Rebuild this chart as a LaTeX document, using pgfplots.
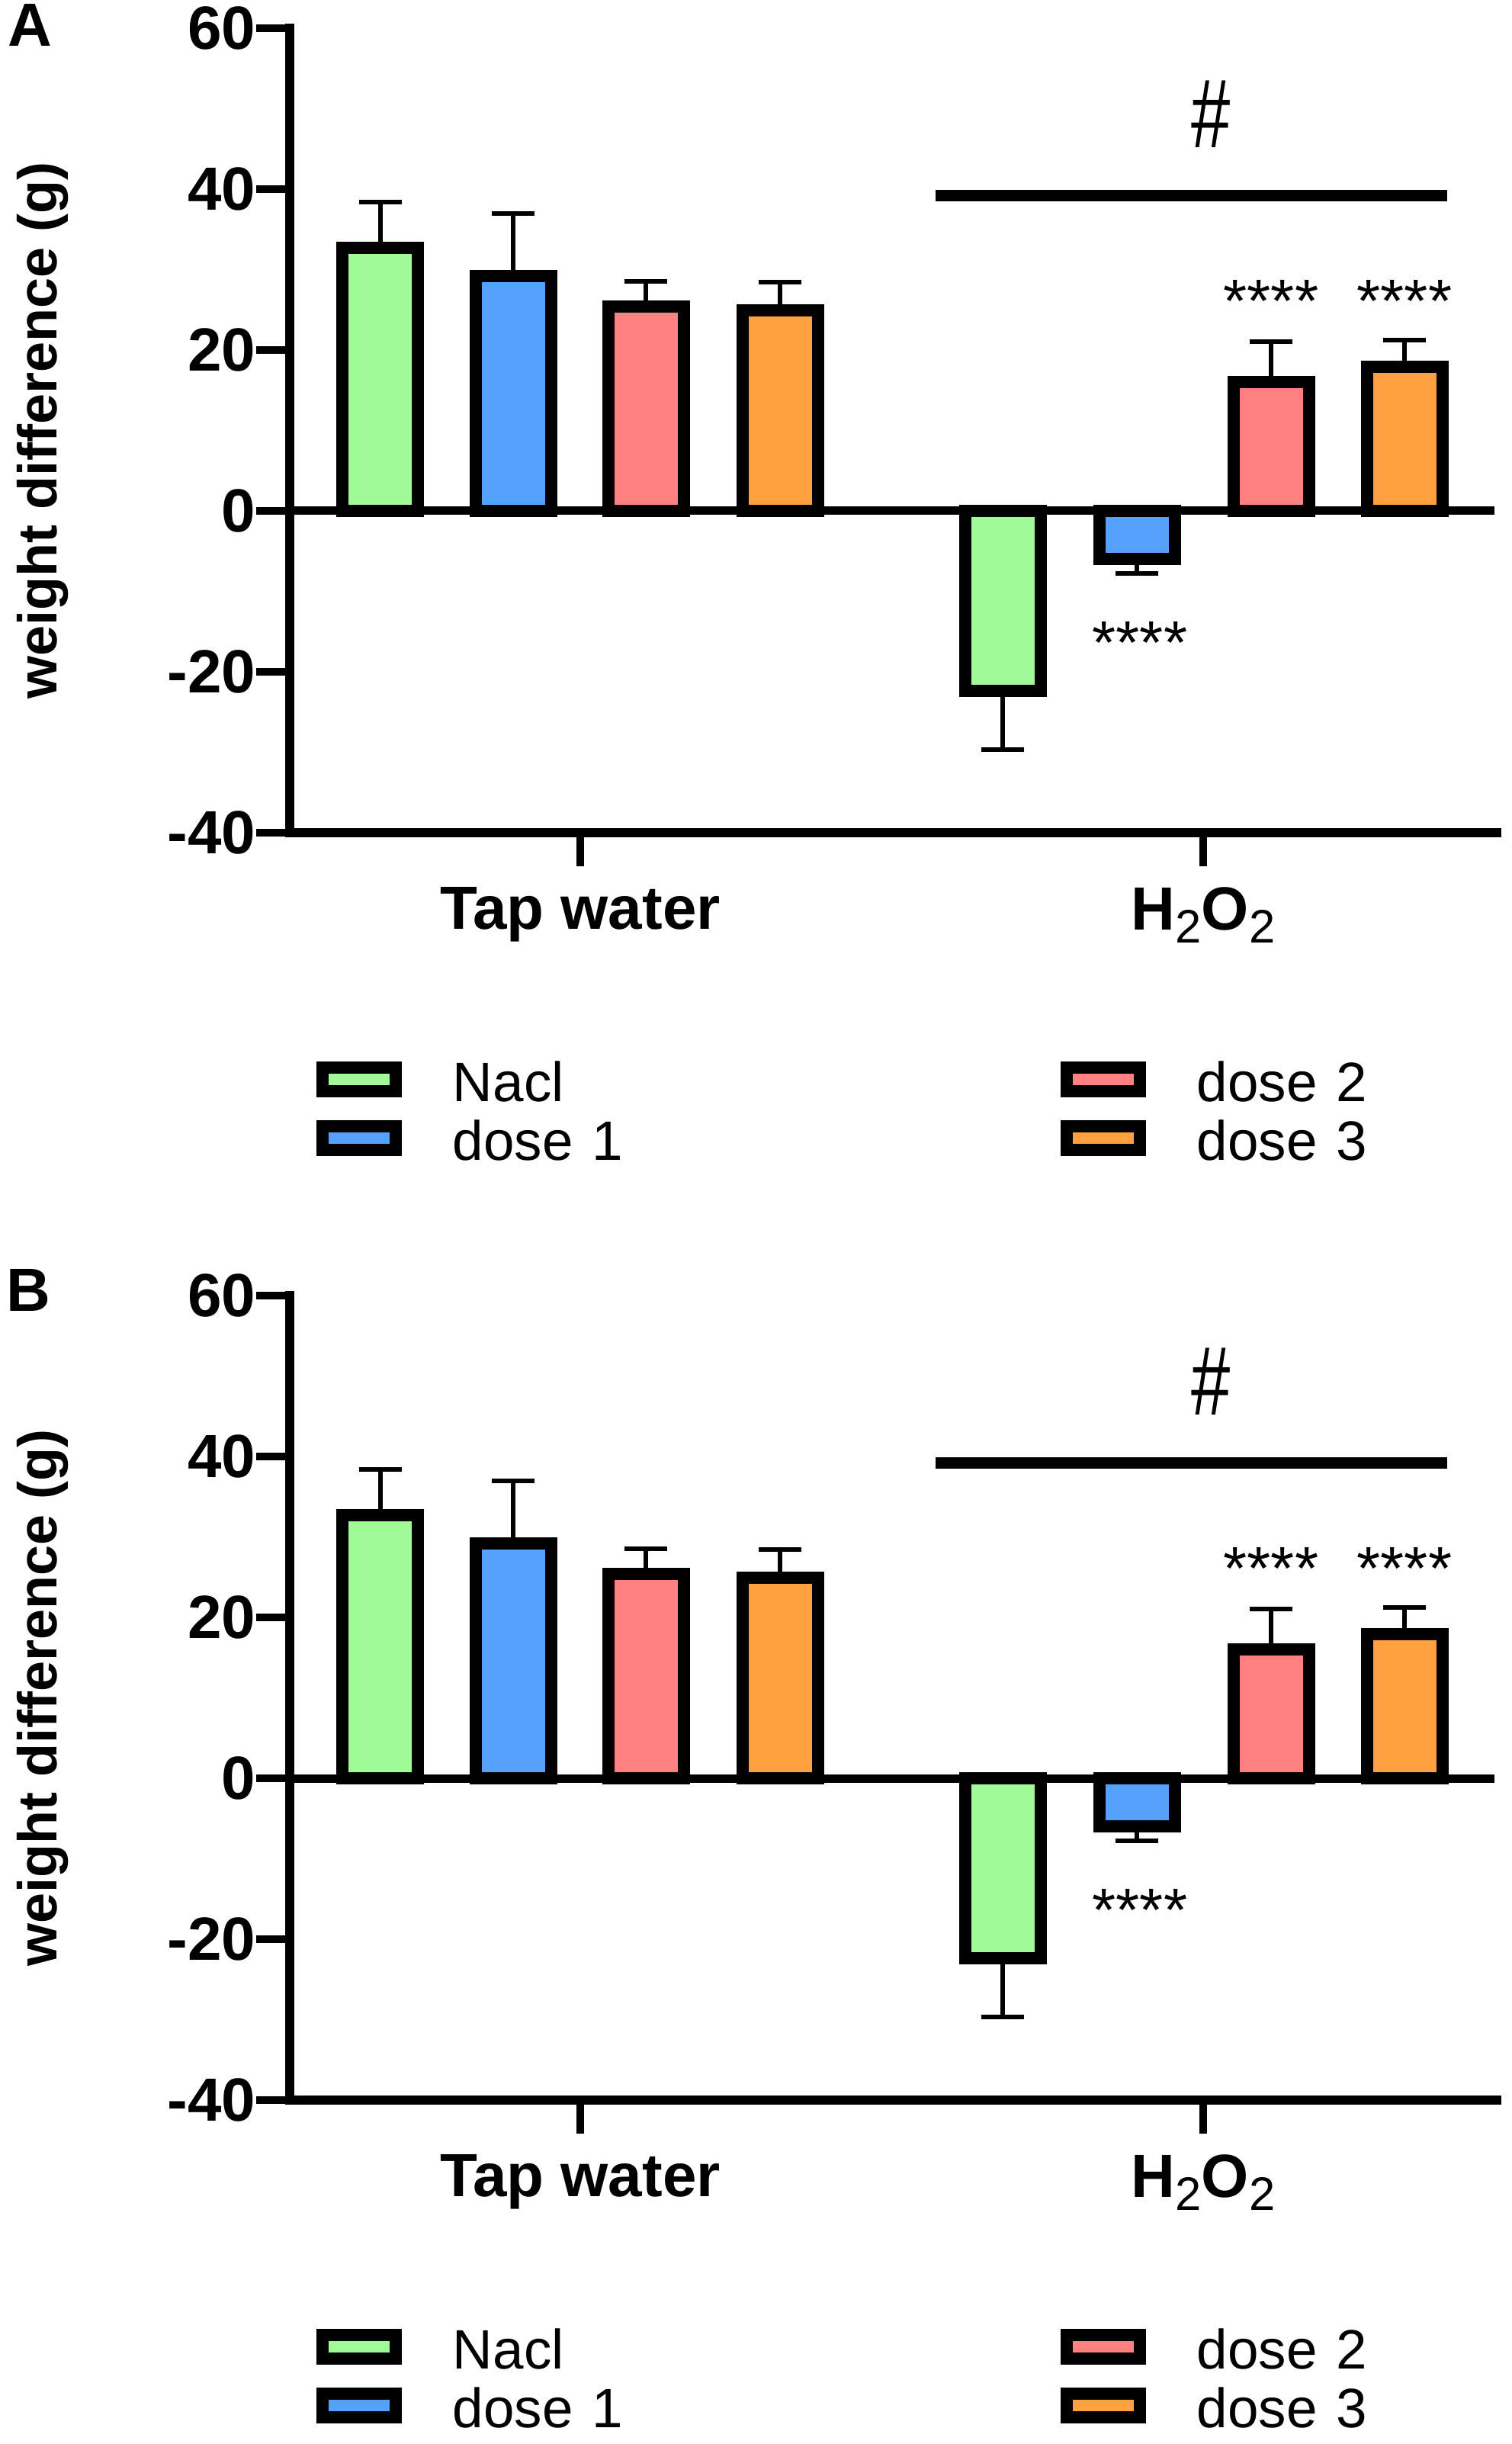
\documentclass[border=0pt]{standalone}
\usepackage{pgfplots}
\pgfplotsset{compat=1.18}
\usepackage{pgfplotstable}
\usepackage{fontspec}
\setmainfont{Liberation Sans}
\newcommand\tickfnt{\bfseries\fontsize{20pt}{20pt}\selectfont}
\newcommand\labfnt{\bfseries\fontsize{18pt}{18pt}\selectfont}
\newcommand\legfnt{\fontsize{18.2pt}{18.2pt}\selectfont}
\newcommand\starfnt{\fontsize{20pt}{20pt}\selectfont}
\newcommand\sub[1]{\raisebox{-4.25pt}{\mdseries\fontsize{15.4pt}{15.4pt}\selectfont #1}}
\definecolor{cgreen}{RGB}{160,250,150}
\definecolor{cblue}{RGB}{85,160,250}
\definecolor{cred}{RGB}{255,128,128}
\definecolor{corange}{RGB}{255,160,64}

\pgfplotstableread{
x y ep em
499 32.7 5.7 0
1315 -22.35 0 7.3
}\tnacl
\pgfplotstableread{
x y ep em
673 29.2 7.8 0
1491 -5.95 0 1.85
}\tdoseone
\pgfplotstableread{
x y ep em
847 25.4 3.1 0
1667 16.0 5.0 0
}\tdosetwo
\pgfplotstableread{
x y ep em
1023 24.9 3.5 0
1842 17.9 3.3 0
}\tdosethree

\pgfplotsset{
 panel/.style={
  scale only axis, width=395.75pt, height=263.75pt,
  xmin=380, xmax=1963, ymin=-40, ymax=60,
  axis x line=bottom, axis y line=left,
  axis line style={-, line width=3pt, line cap=rect},
  tick align=outside, major tick length=11pt,
  tick style={line width=2.6pt, black},
  xtick={761,1578}, xticklabels={Tap water, H\sub{2}O\sub{2}},
  ytick={-40,-20,0,20,40,60}, yticklabels={-40,-20,0,20,40,60},
  tick label style={font=\tickfnt, inner sep=0pt},
  xticklabel style={yshift=-6.75pt},
  ylabel={weight difference (g)},
  ylabel style={font=\labfnt, at={(axis description cs:-0.1933,0.5)}, anchor=base, inner sep=0pt},
  clip=false,
  legend columns=2, legend cell align=left,
  legend style={draw=none, fill=none, inner sep=0pt, outer sep=0pt,
    at={(axis cs:415,-67.39)}, anchor=north west, row sep=1.75pt,
    nodes={inner sep=0pt, outer sep=0pt, text width=199.25pt, text height=16pt, text depth=1.5pt, align=left, font=\legfnt},
    /tikz/every odd column/.append style={column sep=16.75pt}},
 },
 mybar/.style={ybar, bar width=24.75pt, bar shift=0pt, draw=black, line width=4pt, fill=#1,
   error bars/y dir=both, error bars/y explicit,
   error bars/error bar style={line width=1.5pt, black},
   error bars/error mark options={rotate=90, mark size=7.1pt, line width=1.5pt, black}},
 patchleg/.style={legend image code/.code={\draw[##1, line width=4pt, draw=black] (0pt,-3.875pt) rectangle (24pt,3.875pt);}},
}

\newcommand\panelbody{%
  \addplot[mybar=cgreen, forget plot] table[x=x, y=y, y error plus=ep, y error minus=em] {\tnacl};
  \addplot[mybar=cblue, forget plot] table[x=x, y=y, y error plus=ep, y error minus=em] {\tdoseone};
  \addplot[mybar=cred, forget plot] table[x=x, y=y, y error plus=ep, y error minus=em] {\tdosetwo};
  \addplot[mybar=corange, forget plot] table[x=x, y=y, y error plus=ep, y error minus=em] {\tdosethree};
  \addplot[black, line width=2.75pt, forget plot] coordinates {(380,0) (1960,0)};
  \addplot[black, line width=3.75pt, forget plot] coordinates {(1227,39.15) (1898,39.15)};
  \node[anchor=base, inner sep=0pt] at (axis cs:1588,45.2) {\scalebox{0.72}[1]{\fontsize{32pt}{32pt}\selectfont\#}};
  \node[font=\starfnt, anchor=base, inner sep=0pt] at (axis cs:1667,23.5) {****};
  \node[font=\starfnt, anchor=base, inner sep=0pt] at (axis cs:1842,23.5) {****};
  \node[font=\starfnt, anchor=base, inner sep=0pt] at (axis cs:1495,-19.0) {****};
  \addlegendimage{fill=cgreen, patchleg}
  \addlegendentry{Nacl}
  \addlegendimage{fill=cred, patchleg}
  \addlegendentry{dose 2}
  \addlegendimage{fill=cblue, patchleg}
  \addlegendentry{dose 1}
  \addlegendimage{fill=corange, patchleg}
  \addlegendentry{dose 3}
}

\begin{document}
\begin{tikzpicture}
\useasboundingbox (0,0) rectangle (495.75pt,801.25pt);
\begin{axis}[panel, at={(95pt,528.25pt)}, anchor=south west]
\panelbody
\end{axis}
\begin{axis}[panel, at={(95pt,112.75pt)}, anchor=south west]
\panelbody
\end{axis}
\node[font=\bfseries\fontsize{20pt}{20pt}\selectfont, anchor=base west, inner sep=0pt] at (2.5pt,786pt) {A};
\node[font=\bfseries\fontsize{20pt}{20pt}\selectfont, anchor=base west, inner sep=0pt] at (2pt,371.25pt) {B};
\end{tikzpicture}
\end{document}
